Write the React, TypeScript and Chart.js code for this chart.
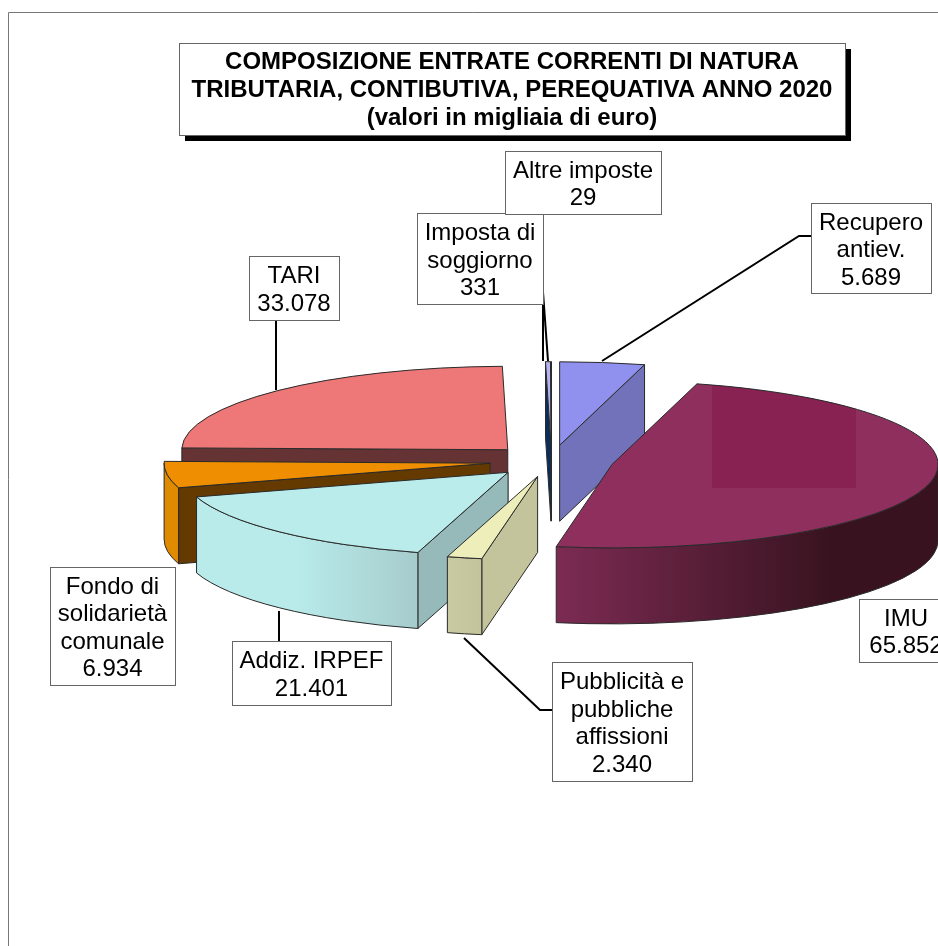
import React, { useEffect, useRef } from "react";
import { Chart, registerables } from "chart.js";

Chart.register(...registerables);

const categories = ["Recupero antiev.", "IMU", "Pubblicità e pubbliche affissioni", "Addiz. IRPEF", "Fondo di solidarietà comunale", "TARI", "Imposta di soggiorno", "Altre imposte"];
const values = [5689, 65852, 2340, 21401, 6934, 33078, 331, 29];
const valueLabels = ["5.689", "65.852", "2.340", "21.401", "6.934", "33.078", "331", "29"];
const labelLines = [["Recupero", "antiev."], ["IMU"], ["Pubblicità e", "pubbliche", "affissioni"], ["Addiz. IRPEF"], ["Fondo di", "solidarietà", "comunale"], ["TARI"], ["Imposta di", "soggiorno"], ["Altre imposte"]];
const titleLines = ["COMPOSIZIONE ENTRATE CORRENTI DI NATURA", "TRIBUTARIA, CONTIBUTIVA, PEREQUATIVA ANNO 2020", "(valori in migliaia di euro)"];

const topColors = ["#9090EE", "#8E2F5E", "#EEEEBB", "#BBECEC", "#EE8E00", "#EE7777", "#B4B4F2", "#B4B4F2"];
const cutColors = ["#7272BB", "#5E1F3E", "#C4C49C", "#96BABA", "#643A00", "#653333", "#0A2E5C", "#0A2E5C"];
const wallFrom = ["#7272BB", "#7C2B53", "#C9C9A2", "#B9EBEB", "#E08A00", "#653333", "#0A2E5C", "#0A2E5C"];
const wallTo = ["#7272BB", "#38131F", "#C4C49C", "#A6CCCC", "#E08A00", "#653333", "#0A2E5C", "#0A2E5C"];

// layout of the 3D projection (px)
const SQUASH = 0.256;
const EXPLODE = 62;
const DEPTH = 76;
const RADIUS = 326;
const OUTLINE = "#2a2a2a";

// label boxes [x, y, w, h], same order as categories
const labelBoxes = [
  [811, 203, 120, 90],
  [859, 599, 94, 63],
  [552, 662, 140, 119],
  [232, 641, 159, 64],
  [50, 567, 125, 118],
  [249, 256, 90, 64],
  [417, 213, 126, 91],
  [505, 151, 156, 63],
];
const leaders = [
  [[602, 361], [799, 236], [811, 236]],
  [],
  [[464, 638], [540, 710], [552, 710]],
  [[279, 611], [279, 641]],
  [],
  [[276, 320], [276, 390]],
  [[543, 292], [548, 361]],
  [[543, 214], [543, 361]],
];

const pie3d = {
  id: "pie3d",
  beforeDatasetsDraw(chart: any) {
    const ctx: CanvasRenderingContext2D = chart.ctx;
    const arcs: any[] = chart.getDatasetMeta(0).data;
    const midOf = (a: any) => (a.startAngle + a.endAngle) / 2;
    const order = arcs.map((_, i) => i).sort((p, q) => Math.sin(midOf(arcs[p])) - Math.sin(midOf(arcs[q])));
    for (const i of order) {
      const arc = arcs[i];
      const a0 = arc.startAngle, a1 = arc.endAngle, R = arc.outerRadius, mid = midOf(arc);
      const px = arc.x + Math.cos(mid) * EXPLODE;
      const py = arc.y + Math.sin(mid) * EXPLODE * SQUASH;
      const edge = (t: number) => [px + R * Math.cos(t), py + R * SQUASH * Math.sin(t)];
      ctx.save();
      ctx.lineWidth = 1;
      ctx.strokeStyle = OUTLINE;
      // radial cut faces
      const face = (t: number) => {
        const [ex, ey] = edge(t);
        ctx.beginPath();
        ctx.moveTo(px, py);
        ctx.lineTo(ex, ey);
        ctx.lineTo(ex, ey + DEPTH);
        ctx.lineTo(px, py + DEPTH);
        ctx.closePath();
        ctx.fillStyle = cutColors[i];
        ctx.fill();
        ctx.stroke();
      };
      if (Math.cos(a0) < 0) face(a0);
      if (Math.cos(a1) > 0) face(a1);
      // outer wall: the front half of the rim only
      for (const shift of [0, Math.PI * 2]) {
        const s = Math.max(a0, shift), e = Math.min(a1, shift + Math.PI);
        if (e <= s) continue;
        const [sx] = edge(s);
        const [ex] = edge(e);
        const left = Math.min(sx, ex), right = Math.max(sx, ex);
        const g = ctx.createLinearGradient(left, 0, right, 0);
        g.addColorStop(0, wallFrom[i]);
        if (i === 3) g.addColorStop(0.45, wallFrom[i]);
        if (i === 1) g.addColorStop(0.72, wallTo[i]);
        g.addColorStop(1, wallTo[i]);
        ctx.beginPath();
        ctx.ellipse(px, py, R, R * SQUASH, 0, s, e);
        ctx.ellipse(px, py + DEPTH, R, R * SQUASH, 0, e, s, true);
        ctx.closePath();
        ctx.fillStyle = g;
        ctx.fill();
        ctx.stroke();
      }
      // top face, drawn by the library's own arc element
      ctx.save();
      ctx.translate(px, py);
      ctx.scale(1, SQUASH);
      ctx.translate(-arc.x, -arc.y);
      arc.draw(ctx);
      ctx.restore();
      // lit patch on the largest slice
      if (i === 1) {
        ctx.save();
        ctx.beginPath();
        ctx.moveTo(px, py);
        ctx.ellipse(px, py, R, R * SQUASH, 0, a0, a1);
        ctx.closePath();
        ctx.clip();
        ctx.fillStyle = "#872253";
        ctx.fillRect(712, 380, 144, 108);
        ctx.restore();
      }
      ctx.beginPath();
      ctx.moveTo(px, py);
      ctx.ellipse(px, py, R, R * SQUASH, 0, a0, a1);
      ctx.closePath();
      ctx.stroke();
      ctx.restore();
    }
    return false;
  },
  afterDraw(chart: any) {
    const ctx: CanvasRenderingContext2D = chart.ctx;
    ctx.save();
    // outer frame
    ctx.strokeStyle = "#777777";
    ctx.lineWidth = 1;
    ctx.beginPath();
    ctx.moveTo(8.5, 946);
    ctx.lineTo(8.5, 12.5);
    ctx.lineTo(938, 12.5);
    ctx.stroke();
    // title box
    ctx.fillStyle = "#000000";
    ctx.fillRect(185, 49, 666, 92);
    ctx.fillStyle = "#ffffff";
    ctx.fillRect(179, 43, 666, 92);
    ctx.strokeStyle = "#666666";
    ctx.strokeRect(179.5, 43.5, 666, 92);
    ctx.fillStyle = "#000000";
    ctx.textAlign = "center";
    ctx.textBaseline = "middle";
    ctx.font = 'bold 24px "Liberation Sans", Arial, sans-serif';
    titleLines.forEach((t, n) => ctx.fillText(t, 512, 62.5 + n * 28));
    // leader lines
    ctx.strokeStyle = "#000000";
    ctx.lineWidth = 2;
    leaders.forEach((pts) => {
      if (!pts.length) return;
      ctx.beginPath();
      pts.forEach(([x, y], n) => (n ? ctx.lineTo(x, y) : ctx.moveTo(x, y)));
      ctx.stroke();
    });
    // data labels
    ctx.lineWidth = 1;
    ctx.font = '24px "Liberation Sans", Arial, sans-serif';
    categories.forEach((_, i) => {
      const [x, y, w, h] = labelBoxes[i];
      ctx.fillStyle = "#ffffff";
      ctx.fillRect(x, y, w, h);
      ctx.strokeStyle = "#666666";
      ctx.strokeRect(x + 0.5, y + 0.5, w, h);
      const lines = [...labelLines[i], valueLabels[i]];
      ctx.fillStyle = "#000000";
      const lh = 27.5;
      const top = y + h / 2 + 2.5 - ((lines.length - 1) * lh) / 2;
      lines.forEach((t, n) => ctx.fillText(t, x + w / 2, top + n * lh));
    });
    ctx.restore();
  },
};

export default function App() {
  const ref = useRef<HTMLCanvasElement>(null);
  useEffect(() => {
    const chart = new Chart(ref.current!, {
      type: "pie",
      data: {
        labels: categories,
        datasets: [{ data: values, backgroundColor: topColors, borderWidth: 0 }],
      },
      options: {
        animation: false,
        responsive: false,
        events: [],
        radius: RADIUS,
        rotation: 0,
        layout: { padding: { left: 165, bottom: 24 } },
        plugins: { legend: { display: false }, tooltip: { enabled: false }, title: { display: false } },
      } as any,
      plugins: [pie3d as any],
    });
    return () => chart.destroy();
  }, []);
  return (
    <div style={{ position: "fixed", left: 0, top: 0, width: 938, height: 946, background: "#ffffff", overflow: "hidden" }}>
      <canvas ref={ref} width={938} height={946} style={{ display: "block" }} />
    </div>
  );
}
